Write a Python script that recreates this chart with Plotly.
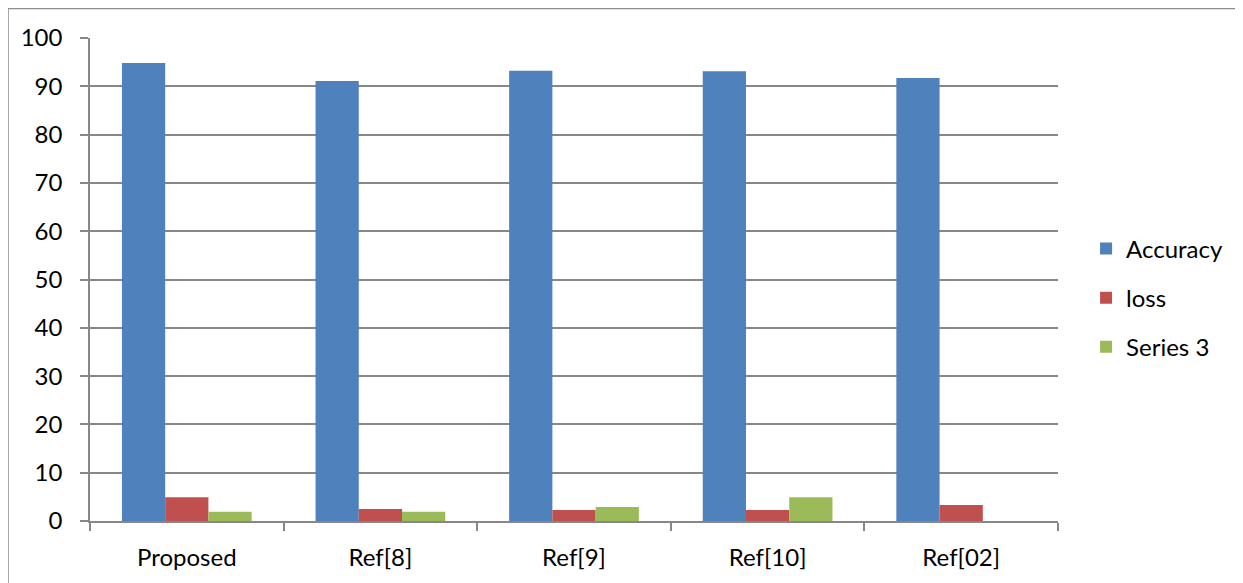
import plotly.graph_objects as go

categories = ["Proposed", "Ref[8]", "Ref[9]", "Ref[10]", "Ref[02]"]
accuracy = [94.8, 91.1, 93.2, 93.1, 91.7]
loss = [4.9, 2.5, 2.3, 2.3, 3.3]
series3 = [1.9, 1.9, 2.9, 4.9, 0]
y_ticks = list(range(0, 101, 10))

series_names = ["Accuracy", "loss", "Series 3"]
colors = ["#4F81BD", "#C0504D", "#9BBB59"]

fig = go.Figure()
for i, (name, vals, col) in enumerate(zip(series_names, [accuracy, loss, series3], colors)):
    fig.add_trace(go.Bar(
        x=categories, y=vals, name=name, legendgroup=f"g{i}",
        marker=dict(color=col, line=dict(width=0)),
    ))

GRID = "#878787"
FONT = "Lato, Open Sans, sans-serif"

fig.update_layout(
    width=1235, height=575,
    margin=dict(l=82, r=185, t=30, b=62),
    paper_bgcolor="white", plot_bgcolor="white",
    barmode="group", bargap=0.33, bargroupgap=0,
    font=dict(family=FONT, size=24, color="black"),
    showlegend=True,
    legend=dict(
        x=1.029, xanchor="left", y=0.462, yanchor="middle",
        traceorder="grouped", tracegroupgap=15,
        font=dict(family=FONT, size=24, color="black"),
        itemwidth=30, bgcolor="rgba(0,0,0,0)",
    ),
    xaxis=dict(
        showline=True, linecolor=GRID, linewidth=1.5,
        ticks="outside", tickson="boundaries", ticklen=8, tickcolor=GRID, tickwidth=1.5,
        showgrid=False, tickfont=dict(size=24), ticklabelstandoff=14,
    ),
    yaxis=dict(
        range=[0, 100], tickvals=y_ticks, showline=True, linecolor=GRID, linewidth=1.5,
        ticks="outside", ticklen=8, tickcolor=GRID, tickwidth=1.5,
        showgrid=True, gridcolor=GRID, gridwidth=1.5, zeroline=False,
        tickfont=dict(size=24), ticklabelstandoff=13,
    ),
    shapes=[dict(
        type="rect", xref="paper", yref="paper",
        x0=-0.0847, x1=1.2, y0=-0.14, y1=1.061,
        line=dict(color="#8c8c8c", width=1.5), fillcolor="rgba(0,0,0,0)", layer="below",
    )],
)

fig.write_html("out.html")
